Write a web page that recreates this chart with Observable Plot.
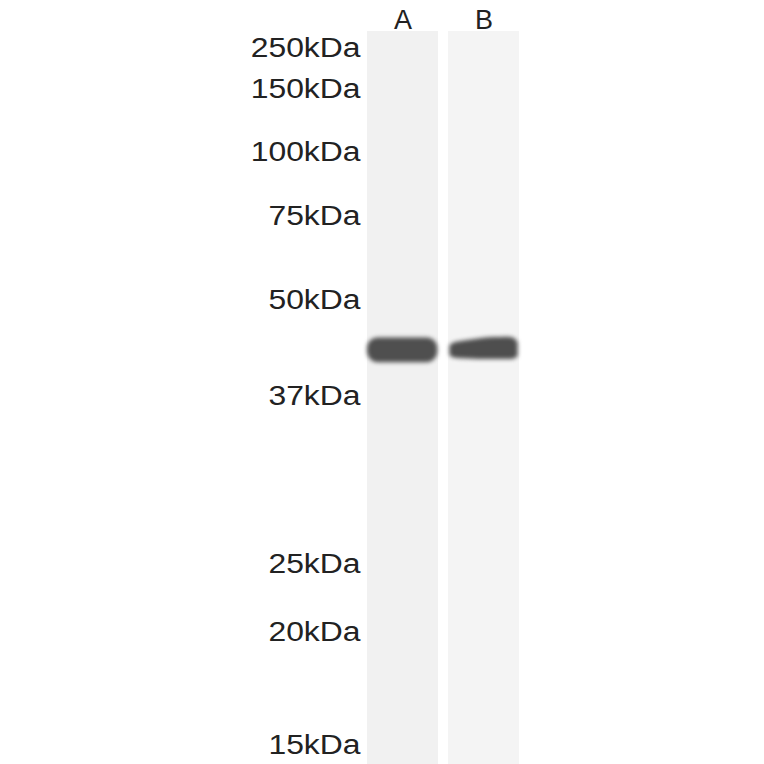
<!DOCTYPE html>
<html>
<head>
<meta charset="utf-8">
<script src="https://cdn.jsdelivr.net/npm/d3@7"></script>
<script src="https://cdn.jsdelivr.net/npm/@observablehq/plot@0.6"></script>
<style>
  html, body { margin: 0; padding: 0; background: #ffffff; }
  .bands { filter: blur(2.2px); }
</style>
</head>
<body>
<script>
// Lanes of the blot
const lanes = ["A", "B"];

// Molecular weight ladder (kDa) and relative migration (Rf, 0 = top of gel, 1 = bottom)
const markerKDa = [250, 150, 100, 75, 50, 37, 25, 20, 15];
const markerRf  = [0.0232, 0.0791, 0.1651, 0.2524, 0.3670, 0.4980, 0.7272, 0.8199, 0.9741];

// Lane A band: across-lane extent (fraction of lane) and migration (Rf)
const bandAx   = [0.0, 0.99];
const bandARf  = [0.4180, 0.4520];

// Lane B band profile: across-lane position, upper and lower edge (Rf)
const bandBx      = [0.02, 0.08, 0.2, 0.35, 0.5, 0.65, 0.8, 0.92, 0.98];
const bandBtop    = [0.4290, 0.4250, 0.4225, 0.4205, 0.4185, 0.4175, 0.4170, 0.4185, 0.4250];
const bandBbottom = [0.4420, 0.4455, 0.4465, 0.4470, 0.4475, 0.4475, 0.4475, 0.4470, 0.4435];

const laneTable = lanes.map(l => ({lane: l}));
const markerTable = markerKDa.map((k, i) => ({lane: "A", label: `${k}kDa`, rf: markerRf[i]}));
const bandATable = [{lane: "A", x1: bandAx[0], x2: bandAx[1], y1: bandARf[0], y2: bandARf[1]}];
const bandBTable = bandBx.map((x, i) => ({lane: "B", x, y1: bandBtop[i], y2: bandBbottom[i]}));

const chart = Plot.plot({
  width: 764,
  height: 764,
  marginTop: 31,
  marginBottom: 0,
  marginLeft: 367,
  marginRight: 245,
  style: {fontFamily: "'Liberation Sans', Arial, sans-serif", fontSize: "27px", color: "#222222", background: "#ffffff"},
  fx: {domain: lanes, axis: "top", label: null, tickSize: 0, tickPadding: 3, paddingInner: 0.125, paddingOuter: 0},
  x: {domain: [0, 1], axis: null},
  y: {domain: [0, 1], reverse: true, axis: null},
  marks: [
    Plot.rect(laneTable, {fx: "lane", x1: 0, x2: 1, y1: 0, y2: 1,
      fill: d => d.lane === "A" ? "#f1f1f1" : "#f4f4f4"}),
    Plot.rect(bandATable, {fx: "lane", x1: "x1", x2: "x2", y1: "y1", y2: "y2",
      fill: "#4f4f4f", rx: 11, className: "bands"}),
    Plot.areaY(bandBTable, {fx: "lane", x: "x", y1: "y1", y2: "y2",
      fill: "#4e4e4e", curve: "natural", className: "bands"}),
    Plot.text(markerTable, {fx: "lane", y: "rf", text: "label", frameAnchor: "left",
      textAnchor: "end", dx: -7, fill: "#222222", fontSize: 27, className: "markers"})
  ]
});

document.body.appendChild(chart);

// The ladder lettering in the reference is horizontally stretched
d3.select(chart).selectAll(".markers text").each(function () {
  const w = this.getComputedTextLength();
  this.setAttribute("textLength", (w * 1.18).toFixed(1));
  this.setAttribute("lengthAdjust", "spacingAndGlyphs");
});
</script>
</body>
</html>
